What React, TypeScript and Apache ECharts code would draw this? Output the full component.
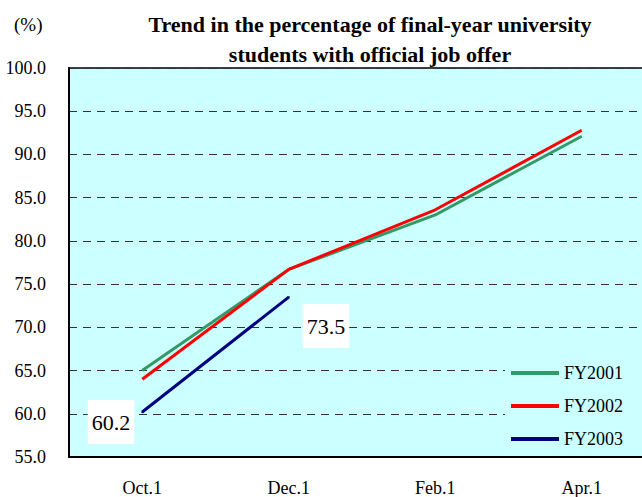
import React, { useEffect, useRef } from "react";
import * as echarts from "echarts";

const categories = ["Oct.1", "Dec.1", "Feb.1", "Apr.1"];
const fy2001 = [65.0, 76.7, 83.0, 92.1];
const fy2002 = [64.0, 76.7, 83.6, 92.8];
const fy2003: (number | null)[] = [60.2, 73.5, null, null];
const seriesNames = ["FY2001", "FY2002", "FY2003"];
const yMin = 55;
const yMax = 100;
const yInterval = 5;

const FONT = "Liberation Serif";

export default function App() {
  const ref = useRef<HTMLDivElement>(null);
  useEffect(() => {
    const chart = echarts.init(ref.current!, null, { renderer: "svg" });
    const labelStyle = {
      show: true,
      fontFamily: FONT,
      fontSize: 22,
      color: "#000",
      backgroundColor: "#fff",
      padding: [11, 4, 11, 4],
      formatter: (p: any) => Number(p.value).toFixed(1),
    };
    chart.setOption({
      animation: false,
      title: {
        text: "Trend in the percentage of final-year university\nstudents with official job offer",
        left: 365,
        textAlign: "center",
        top: 4,
        textStyle: {
          fontFamily: FONT,
          fontSize: 22,
          fontWeight: "bold",
          color: "#000",
          lineHeight: 30,
        },
      },
      graphic: [
        {
          type: "text",
          left: 14,
          top: 15,
          style: { text: "(%)", fontFamily: FONT, fontSize: 19, fill: "#000" },
        },
      ],
      grid: {
        left: 69,
        top: 68,
        bottom: 40,
        right: 5,
        show: true,
        backgroundColor: "#ccffff",
        borderColor: "#000",
        borderWidth: 1.5,
      },
      legend: {
        orient: "vertical",
        left: 505,
        top: 360,
        itemWidth: 48,
        itemHeight: 4,
        itemGap: 15,
        icon: "rect",
        backgroundColor: "#ccffff",
        padding: [4, 30, 4, 6],
        textStyle: { fontFamily: FONT, fontSize: 18, color: "#000" },
        data: seriesNames,
      },
      xAxis: {
        type: "category",
        data: categories,
        boundaryGap: true,
        axisLine: { lineStyle: { color: "#000", width: 2 } },
        axisTick: { show: false },
        axisLabel: { fontFamily: FONT, fontSize: 18, color: "#000", margin: 22 },
      },
      yAxis: {
        type: "value",
        min: yMin,
        max: yMax,
        interval: yInterval,
        axisLine: { show: true, lineStyle: { color: "#000", width: 2 } },
        axisTick: { show: false },
        axisLabel: {
          fontFamily: FONT,
          fontSize: 18,
          color: "#000",
          margin: 23,
          formatter: (v: number) => v.toFixed(1),
        },
        splitLine: { lineStyle: { color: "#333", type: [8, 6], width: 1.2 } },
      },
      series: [
        {
          name: seriesNames[0],
          type: "line",
          data: fy2001,
          showSymbol: false,
          symbol: "none",
          lineStyle: { color: "#339966", width: 3 },
          itemStyle: { color: "#339966" },
          z: 2,
        },
        {
          name: seriesNames[1],
          type: "line",
          data: fy2002,
          showSymbol: false,
          symbol: "none",
          lineStyle: { color: "#ff0000", width: 3 },
          itemStyle: { color: "#ff0000" },
          z: 3,
        },
        {
          name: seriesNames[2],
          type: "line",
          data: [
            {
              value: fy2003[0],
              label: { ...labelStyle, position: "left", offset: [-2, 10] },
            },
            {
              value: fy2003[1],
              label: { ...labelStyle, position: "right", offset: [8, 29] },
            },
            fy2003[2],
            fy2003[3],
          ],
          showSymbol: true,
          symbol: "circle",
          symbolSize: 2,
          lineStyle: { color: "#000080", width: 3 },
          itemStyle: { color: "#000080" },
          z: 4,
        },
      ],
    });
    return () => chart.dispose();
  }, []);
  return (
    <div
      style={{
        position: "fixed",
        left: 0,
        top: 0,
        width: 642,
        height: 497,
        overflow: "hidden",
        background: "#fff",
      }}
    >
      <div ref={ref} style={{ width: 660, height: 497 }} />
    </div>
  );
}
